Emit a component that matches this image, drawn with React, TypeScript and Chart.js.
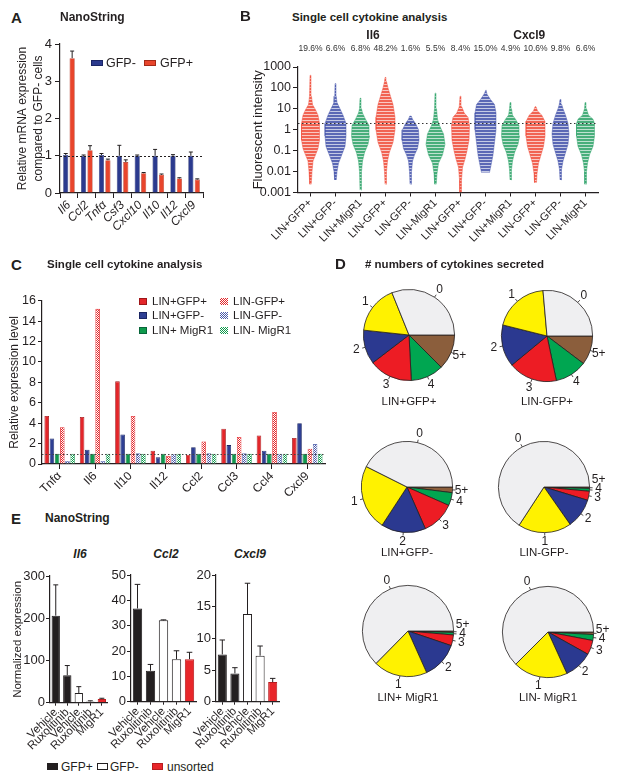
import React, { useEffect, useRef } from "react";
import { Chart, registerables } from "chart.js";

Chart.register(...registerables);

const FONT = "'Liberation Sans', Arial, Helvetica, sans-serif";
Chart.defaults.font.family = FONT;
Chart.defaults.color = "#231f20";

// ================= Panel A (NanoString, GFP- vs GFP+) =================
const aGenes = ["Il6", "Ccl2", "Tnfα", "Csf3", "Cxcl10", "Il10", "Il12", "Cxcl9"];
const aGfpNeg = [1.02, 1.0, 1.02, 1.0, 1.0, 1.0, 1.0, 1.0];
const aGfpNegErr = [0.04, 0.02, 0.04, 0.28, 0.02, 0.17, 0.03, 0.1];
const aGfpPos = [3.62, 1.15, 0.88, 0.83, 0.53, 0.49, 0.39, 0.36];
const aGfpPosErr = [0.19, 0.12, 0.03, 0.06, 0.02, 0.02, 0.02, 0.02];

// ================= Panel B (single cell swarm) =================
const bGroups = ["LIN+GFP+", "LIN+GFP-", "LIN+MigR1", "LIN-GFP+", "LIN-GFP-", "LIN-MigR1",
  "LIN+GFP+", "LIN+GFP-", "LIN+MigR1", "LIN-GFP+", "LIN-GFP-", "LIN-MigR1"];
const bPercents = ["19.6%", "6.6%", "6.8%", "48.2%", "1.6%", "5.5%", "8.4%", "15.0%", "4.9%", "10.6%", "9.8%", "6.6%"];
const bCytokines = ["Il6", "Cxcl9"];
const bYTicks = [0.001, 0.01, 0.1, 1, 10, 100, 1000];
const bYTickLabels = ["0.001", "0.01", "0.1", "1", "10", "100", "1000"];
// swarm outline per column: [intensity, half width in column units]
const bIl6LinPosGfpPos = [[0.0025, 0.03], [0.01, 0.06], [0.032, 0.1], [0.063, 0.2], [0.126, 0.3], [0.32, 0.36], [2, 0.36], [5, 0.3], [9, 0.2], [16, 0.08], [40, 0.04], [400, 0.02]];
const bIl6LinPosGfpNeg = [[0.004, 0.03], [0.01, 0.06], [0.025, 0.12], [0.063, 0.25], [0.16, 0.38], [0.5, 0.42], [2, 0.42], [5, 0.3], [10, 0.18], [20, 0.06], [40, 0.03], [160, 0.02]];
const bIl6LinPosMigR1 = [[0.0013, 0.02], [0.01, 0.04], [0.032, 0.08], [0.08, 0.16], [0.2, 0.3], [0.5, 0.36], [1.6, 0.34], [3.2, 0.2], [6.3, 0.08], [10, 0.04], [32, 0.02]];
const bIl6LinNegGfpPos = [[0.0025, 0.02], [0.01, 0.04], [0.032, 0.08], [0.08, 0.15], [0.25, 0.3], [1, 0.38], [4, 0.38], [16, 0.3], [40, 0.2], [100, 0.1], [200, 0.04], [316, 0.02]];
const bIl6LinNegGfpNeg = [[0.0025, 0.02], [0.01, 0.04], [0.032, 0.08], [0.063, 0.16], [0.126, 0.28], [0.32, 0.34], [1, 0.32], [2, 0.2], [3.2, 0.08], [4.5, 0.03]];
const bIl6LinNegMigR1 = [[0.0025, 0.03], [0.008, 0.06], [0.025, 0.12], [0.063, 0.28], [0.2, 0.38], [0.63, 0.32], [1.6, 0.16], [3.2, 0.08], [10, 0.04], [56, 0.02]];
const bCxcl9LinPosGfpPos = [[0.001, 0.03], [0.004, 0.04], [0.016, 0.08], [0.04, 0.18], [0.1, 0.26], [0.32, 0.34], [1.6, 0.36], [4, 0.3], [6.3, 0.15], [12.6, 0.05], [40, 0.02]];
const bCxcl9LinPosGfpNeg = [[0.009, 0.16], [0.02, 0.22], [0.063, 0.3], [0.25, 0.36], [1, 0.42], [6.3, 0.42], [16, 0.36], [28, 0.2], [50, 0.06], [80, 0.02]];
const bCxcl9LinPosMigR1 = [[0.004, 0.02], [0.0126, 0.04], [0.032, 0.08], [0.08, 0.16], [0.2, 0.3], [0.5, 0.36], [1.6, 0.34], [3.2, 0.2], [5, 0.08], [10, 0.04], [20, 0.02]];
const bCxcl9LinNegGfpPos = [[0.003, 0.04], [0.008, 0.06], [0.025, 0.12], [0.063, 0.22], [0.16, 0.32], [0.5, 0.38], [2.5, 0.38], [5, 0.25], [8, 0.08], [12.6, 0.02]];
const bCxcl9LinNegGfpNeg = [[0.004, 0.02], [0.0126, 0.04], [0.032, 0.1], [0.08, 0.2], [0.2, 0.3], [0.63, 0.34], [2, 0.3], [5, 0.2], [10, 0.1], [16, 0.05], [28, 0.02]];
const bCxcl9LinNegMigR1 = [[0.0025, 0.03], [0.01, 0.04], [0.025, 0.08], [0.063, 0.16], [0.16, 0.3], [0.5, 0.36], [2, 0.36], [3.2, 0.3], [5, 0.12], [10, 0.04], [20, 0.02]];
const bProfiles = [bIl6LinPosGfpPos, bIl6LinPosGfpNeg, bIl6LinPosMigR1, bIl6LinNegGfpPos, bIl6LinNegGfpNeg, bIl6LinNegMigR1,
  bCxcl9LinPosGfpPos, bCxcl9LinPosGfpNeg, bCxcl9LinPosMigR1, bCxcl9LinNegGfpPos, bCxcl9LinNegGfpNeg, bCxcl9LinNegMigR1];
const bThreshold = 2;

// ================= Panel C (single cell relative expression) =================
const cGenes = ["Tnfα", "Il6", "Il10", "Il12", "Ccl2", "Ccl3", "Ccl4", "Cxcl9"];
const cSeries = ["LIN+GFP+", "LIN+GFP-", "LIN+ MigR1", "LIN-GFP+", "LIN-GFP-", "LIN- MigR1"];
const cLinPosGfpPos = [4.7, 4.6, 8.1, 1.3, 0.9, 3.45, 2.8, 2.55];
const cLinPosGfpNeg = [2.5, 1.4, 2.9, 0.65, 1.65, 1.85, 1.3, 4.0];
const cLinPosMigR1 = [1, 1, 1, 1, 1, 1, 1, 1];
const cLinNegGfpPos = [3.6, 15.2, 4.7, 0.8, 2.2, 2.65, 5.1, 1.5];
const cLinNegGfpNeg = [0.3, 0.3, 1.05, 0.95, 1.05, 1.05, 1.0, 1.95];
const cLinNegMigR1 = [1, 1, 1, 1, 1, 1, 1, 1];

// ================= Panel D (number of cytokines secreted, %) =================
const dCategories = ["0", "1", "2", "3", "4", "5+"];
const dLinPosGfpPos = [31.1, 17.2, 12.1, 15.4, 11.7, 12.5];
const dLinNegGfpPos = [26.4, 19.7, 14.9, 17.3, 11.4, 10.3];
const dLinPosGfpNeg = [42.6, 23.2, 15.8, 11.8, 4.6, 2.0];
const dLinNegGfpNeg = [65.8, 18.9, 10.6, 3.2, 1.0, 0.5];
const dLinPosMigR1 = [62.6, 19.1, 13.1, 3.8, 0.9, 0.5];
const dLinNegMigR1 = [62.5, 19.3, 10.1, 5.1, 2.1, 0.9];
const dPieNames = ["LIN+GFP+", "LIN-GFP+", "LIN+GFP-", "LIN-GFP-", "LIN+ MigR1", "LIN- MigR1"];

// ================= Panel E (NanoString, normalized) =================
const eGroups = ["Vehicle", "Ruxolitinib", "Vehicle", "Ruxolitinib", "MigR1"];
const eTypes = ["GFP+", "GFP+", "GFP-", "GFP-", "unsorted"];
const eIl6 = [206, 65, 23, 3, 9];
const eIl6Err = [73, 23, 15, 1.5, 1.5];
const eCcl2 = [36.8, 12.2, 32.1, 16.8, 16.8];
const eCcl2Err = [9.5, 2.5, 0.2, 3.3, 2.7];
const eCxcl9 = [7.47, 4.47, 13.84, 7.26, 3.1];
const eCxcl9Err = [2.27, 0.9, 4.86, 1.53, 0.58];

// ================= styles =================
const INK = "#231f20";
const A_BLUE = "#2b3a8e", A_BLUE_D = "#1b2566", A_RED = "#e8452c", A_RED_D = "#a42a18";
const C_RED = "#e3262a", C_RED_D = "#9e1619", C_BLUE = "#2e3f93", C_BLUE_D = "#1b2663", C_GREEN = "#0f9a4c", C_GREEN_D = "#08663a";
const B_RED: [number, number, number] = [238, 72, 52];
const B_BLUE: [number, number, number] = [62, 78, 168];
const B_GREEN: [number, number, number] = [40, 160, 100];
const D_COLORS = ["#efeff1", "#fff200", "#2b3990", "#ed1c24", "#00a651", "#8b5e3c"];
const E_COLORS: Record<string, string> = { "GFP+": "#231f20", "GFP-": "#ffffff", unsorted: "#e8262a" };
const E_BORDERS: Record<string, string> = { "GFP+": "#231f20", "GFP-": "#231f20", unsorted: "#b81c1f" };

const fixW = (w: number) => (scale: any) => { scale.width = w; };
const fixH = (h: number) => (scale: any) => { scale.height = h; };

function checker(color: string) {
  const c = document.createElement("canvas");
  c.width = 2; c.height = 2;
  const g = c.getContext("2d")!;
  g.fillStyle = "#ffffff"; g.fillRect(0, 0, 2, 2);
  g.fillStyle = color; g.fillRect(0, 0, 1, 1); g.fillRect(1, 1, 1, 1);
  return g.createPattern(c, "repeat")!;
}
function stripes(rgb: [number, number, number]) {
  const c = document.createElement("canvas");
  c.width = 1; c.height = 3;
  const g = c.getContext("2d")!;
  g.fillStyle = `rgba(${rgb.join(",")},0.85)`; g.fillRect(0, 0, 1, 2);
  g.fillStyle = `rgba(${rgb.join(",")},0.3)`; g.fillRect(0, 2, 1, 1);
  return g.createPattern(c, "repeat")!;
}

// ================= plugins =================
const errorBarPlugin = {
  id: "errorBars",
  afterDatasetsDraw(chart: any) {
    const ctx = chart.ctx;
    const ys = chart.scales.y;
    chart.data.datasets.forEach((ds: any, di: number) => {
      if (!ds.errors) return;
      const meta = chart.getDatasetMeta(di);
      meta.data.forEach((bar: any, i: number) => {
        const v = ds.data[i], e = ds.errors[i];
        if (e == null) return;
        const top = ys.getPixelForValue(v + e);
        const cap = Math.max(2, bar.width * 0.3);
        ctx.save();
        ctx.strokeStyle = ds.errorColor || INK;
        ctx.lineWidth = 1;
        ctx.beginPath();
        ctx.moveTo(bar.x, bar.y);
        ctx.lineTo(bar.x, top);
        ctx.moveTo(bar.x - cap, top);
        ctx.lineTo(bar.x + cap, top);
        ctx.stroke();
        ctx.restore();
      });
    });
  },
};

const refLinePlugin = {
  id: "refLine",
  afterDatasetsDraw(chart: any, _args: any, opts: any) {
    if (opts == null || opts.value == null) return;
    const ctx = chart.ctx;
    const y = Math.round(chart.scales.y.getPixelForValue(opts.value)) + 0.5;
    const { left, right } = chart.chartArea;
    ctx.save();
    ctx.setLineDash(opts.dash || [2, 2]);
    ctx.strokeStyle = opts.color || INK;
    ctx.lineWidth = 1;
    ctx.beginPath();
    ctx.moveTo(left, y);
    ctx.lineTo(right, y);
    ctx.stroke();
    ctx.restore();
  },
};

const columnTextPlugin = {
  id: "colText",
  afterDraw(chart: any, _args: any, opts: any) {
    const ctx = chart.ctx;
    const xs = chart.scales.x;
    const top = chart.chartArea.top;
    ctx.save();
    ctx.fillStyle = "#333";
    ctx.textAlign = "center";
    ctx.textBaseline = "middle";
    ctx.font = `8.5px ${FONT}`;
    opts.labels.forEach((t: string, i: number) => ctx.fillText(t, xs.getPixelForValue(i + 1), top - opts.labelOffset));
    ctx.fillStyle = INK;
    ctx.font = `bold 12px ${FONT}`;
    opts.headings.forEach((t: string, i: number) => ctx.fillText(t, xs.getPixelForValue(opts.headingAt[i]), top - opts.headingOffset));
    ctx.restore();
  },
};

const pieLabelPlugin = {
  id: "pieLabels",
  afterDraw(chart: any) {
    const ctx = chart.ctx;
    const meta = chart.getDatasetMeta(0);
    const labels = chart.data.labels;
    const items = meta.data.map((arc: any, i: number) => {
      const mid = (arc.startAngle + arc.endAngle) / 2;
      const r = arc.outerRadius;
      return { i, mid, x: arc.x, y: arc.y, r, lx: arc.x + Math.cos(mid) * (r + 9), ly: arc.y + Math.sin(mid) * (r + 9) };
    });
    const right = items.filter((it: any) => Math.cos(it.mid) > 0.5).sort((a: any, b: any) => b.ly - a.ly);
    for (let k = 1; k < right.length; k++) {
      if (right[k].ly > right[k - 1].ly - 9) right[k].ly = right[k - 1].ly - 9;
    }
    ctx.save();
    ctx.strokeStyle = INK;
    ctx.fillStyle = INK;
    ctx.lineWidth = 0.8;
    ctx.font = `12px ${FONT}`;
    ctx.textAlign = "center";
    ctx.textBaseline = "middle";
    items.forEach((it: any) => {
      const c = Math.cos(it.mid), s = Math.sin(it.mid);
      ctx.beginPath();
      ctx.moveTo(it.x + c * it.r, it.y + s * it.r);
      ctx.lineTo(it.x + c * (it.r + 3), it.y + s * (it.r + 3));
      ctx.stroke();
      ctx.fillText(labels[it.i], it.lx, it.ly);
    });
    ctx.restore();
  },
};

const axisColor = INK;
const baseOpts = {
  responsive: false,
  animation: false,
  events: [],
};

// ================= configs =================
function configA() {
  return {
    type: "bar",
    data: {
      labels: aGenes,
      datasets: [
        { label: "GFP-", data: aGfpNeg, errors: aGfpNegErr, backgroundColor: A_BLUE, borderColor: A_BLUE_D, borderWidth: 0.6 },
        { label: "GFP+", data: aGfpPos, errors: aGfpPosErr, backgroundColor: A_RED, borderColor: A_RED_D, borderWidth: 0.6 },
      ],
    },
    options: {
      ...baseOpts,
      layout: { padding: { left: 0, top: 14, right: 7, bottom: 0 } },
      datasets: { bar: { categoryPercentage: 0.72, barPercentage: 0.8 } },
      plugins: { legend: { display: false }, tooltip: { enabled: false }, refLine: { value: 1, dash: [2, 2] } },
      scales: {
        x: {
          grid: { drawOnChartArea: false, offset: true, tickLength: 5, color: axisColor },
          border: { color: axisColor, width: 1.2 },
          ticks: { font: { size: 12, style: "italic" }, minRotation: 45, maxRotation: 45, padding: 0, color: INK, autoSkip: false },
          afterFit: fixH(52),
        },
        y: {
          min: 0, max: 4,
          grid: { drawOnChartArea: false, tickLength: 5, color: axisColor },
          border: { color: axisColor, width: 1.2 },
          ticks: { stepSize: 1, font: { size: 13 }, padding: 3, color: INK },
          title: { display: true, text: ["Relative mRNA expression", "compared to GFP- cells"], font: { size: 12, lineHeight: 1.3 }, padding: { top: 15, bottom: 0 }, color: INK },
          afterFit: fixW(60),
        },
      },
    },
    plugins: [errorBarPlugin, refLinePlugin],
  };
}

function configB() {
  const colorOf = (g: string) => (g.includes("GFP+") ? B_RED : g.includes("GFP-") ? B_BLUE : B_GREEN);
  const datasets = bProfiles.map((prof, i) => {
    const c = i + 1;
    const rgb = colorOf(bGroups[i]);
    const rightSide = prof.map(([v, w]) => ({ x: c + w, y: v }));
    const leftSide = prof.slice().reverse().map(([v, w]) => ({ x: c - w, y: v }));
    return {
      label: bGroups[i],
      data: [...rightSide, ...leftSide],
      fill: "shape",
      backgroundColor: stripes(rgb),
      borderColor: `rgba(${rgb.join(",")},0.55)`,
      borderWidth: 0.8,
      pointRadius: 0,
      tension: 0,
    };
  });
  return {
    type: "line",
    data: { datasets },
    options: {
      ...baseOpts,
      layout: { padding: { left: 0, top: 39, right: 12, bottom: 0 } },
      plugins: {
        legend: { display: false }, tooltip: { enabled: false },
        refLine: { value: bThreshold, dash: [1.5, 2.5], color: "#333" },
        colText: { labels: bPercents, labelOffset: 18, headings: bCytokines, headingAt: [3.5, 9.75], headingOffset: 31 },
      },
      scales: {
        x: {
          type: "linear", min: 0.5, max: 12.5,
          afterBuildTicks: (s: any) => { s.ticks = bGroups.map((_, i) => ({ value: i + 1 })); },
          grid: { drawOnChartArea: false, tickLength: 4, color: axisColor },
          border: { color: axisColor, width: 1.2 },
          ticks: { callback: (v: number) => bGroups[v - 1], font: { size: 11 }, minRotation: 45, maxRotation: 45, padding: 0, color: INK, autoSkip: false },
          afterFit: fixH(77.5),
        },
        y: {
          type: "logarithmic", min: 0.001, max: 1000,
          afterBuildTicks: (s: any) => { s.ticks = bYTicks.map((v) => ({ value: v })); },
          grid: { drawOnChartArea: false, tickLength: 5, color: axisColor },
          border: { color: axisColor, width: 1.2 },
          ticks: { callback: (v: number) => bYTickLabels[bYTicks.indexOf(v)], font: { size: 12.5 }, padding: 2, color: INK, autoSkip: false },
          title: { display: true, text: "Fluorescent intensity", font: { size: 13 }, padding: { top: 6, bottom: 0 }, color: INK },
          afterFit: fixW(53),
        },
      },
    },
    plugins: [refLinePlugin, columnTextPlugin],
  };
}

function configC() {
  const mk = (label: string, data: number[], bg: any, border: string) => ({ label, data, backgroundColor: bg, borderColor: border, borderWidth: 0.8 });
  return {
    type: "bar",
    data: {
      labels: cGenes,
      datasets: [
        mk(cSeries[0], cLinPosGfpPos, C_RED, C_RED_D),
        mk(cSeries[1], cLinPosGfpNeg, C_BLUE, C_BLUE_D),
        mk(cSeries[2], cLinPosMigR1, C_GREEN, C_GREEN_D),
        mk(cSeries[3], cLinNegGfpPos, checker(C_RED), C_RED),
        mk(cSeries[4], cLinNegGfpNeg, checker("#4a5aa8"), "#6a78b8"),
        mk(cSeries[5], cLinNegMigR1, checker(C_GREEN), "#3aa86a"),
      ],
    },
    options: {
      ...baseOpts,
      layout: { padding: { left: 0, top: 12.7, right: 5, bottom: 0 } },
      datasets: { bar: { categoryPercentage: 0.88, barPercentage: 0.88 } },
      plugins: { legend: { display: false }, tooltip: { enabled: false }, refLine: { value: 1, dash: [1.5, 2], color: "#444" } },
      scales: {
        x: {
          grid: { drawOnChartArea: false, offset: false, tickLength: 5, color: axisColor },
          border: { color: axisColor, width: 1.2 },
          ticks: { font: { size: 12 }, minRotation: 45, maxRotation: 45, padding: 0, color: INK, autoSkip: false },
          afterFit: fixH(46),
        },
        y: {
          min: 0, max: 16,
          grid: { drawOnChartArea: false, tickLength: 4, color: axisColor },
          border: { color: axisColor, width: 1.2 },
          ticks: { stepSize: 2, font: { size: 12.5 }, padding: 2, color: INK },
          title: { display: true, text: "Relative expression level", font: { size: 12 }, padding: { top: 7, bottom: 0 }, color: INK },
          afterFit: fixW(42),
        },
      },
    },
    plugins: [refLinePlugin],
  };
}

function configPie(values: number[]) {
  return {
    type: "pie",
    data: {
      labels: dCategories.slice().reverse(),
      datasets: [{ data: values.slice().reverse(), backgroundColor: D_COLORS.slice().reverse(), borderColor: INK, borderWidth: 0.8 }],
    },
    options: {
      ...baseOpts,
      rotation: 90,
      layout: { padding: { left: 24, right: 24, top: 19, bottom: 19 } },
      plugins: { legend: { display: false }, tooltip: { enabled: false } },
    },
    plugins: [pieLabelPlugin],
  };
}

function configE(values: number[], errs: number[], max: number, step: number, yTitle: string | null, yW: number, padR: number) {
  return {
    type: "bar",
    data: {
      labels: eGroups,
      datasets: [{
        data: values, errors: errs,
        backgroundColor: eTypes.map((t) => E_COLORS[t]),
        borderColor: eTypes.map((t) => E_BORDERS[t]),
        borderWidth: 1,
      }],
    },
    options: {
      ...baseOpts,
      layout: { padding: { left: 0, top: 10, right: padR, bottom: 0 } },
      datasets: { bar: { categoryPercentage: 1, barPercentage: 0.72 } },
      plugins: { legend: { display: false }, tooltip: { enabled: false } },
      scales: {
        x: {
          grid: { drawOnChartArea: false, offset: false, tickLength: 3, color: axisColor },
          border: { color: axisColor, width: 1.2 },
          ticks: { font: { size: 11.5 }, minRotation: 45, maxRotation: 45, padding: 0, color: INK, autoSkip: false },
          afterFit: fixH(53.3),
        },
        y: {
          min: 0, max,
          grid: { drawOnChartArea: false, tickLength: 4, color: axisColor },
          border: { color: axisColor, width: 1.2 },
          ticks: { stepSize: step, font: { size: 13 }, padding: 1, color: INK },
          title: { display: !!yTitle, text: yTitle || "", font: { size: 11.5 }, padding: { top: 11, bottom: 0 }, color: INK },
          afterFit: fixW(yW),
        },
      },
    },
    plugins: [errorBarPlugin],
  };
}

// ================= components =================
type Box = { x: number; y: number; w: number; h: number };

function ChartBox({ box, config }: { box: Box; config: () => any }) {
  const ref = useRef<HTMLCanvasElement | null>(null);
  useEffect(() => {
    if (!ref.current) return;
    const chart = new Chart(ref.current, config());
    return () => chart.destroy();
  }, []);
  return (
    <canvas
      ref={ref}
      width={box.w}
      height={box.h}
      style={{ position: "absolute", left: box.x, top: box.y, width: box.w, height: box.h }}
    />
  );
}

function Txt(props: { x: number; y: number; s: number; children: any; bold?: boolean; italic?: boolean; center?: boolean; color?: string }) {
  const { x, y, s, bold, italic, center } = props;
  return (
    <div
      style={{
        position: "absolute",
        left: x,
        top: y - 0.5 * s,
        fontSize: s,
        lineHeight: `${s}px`,
        height: s,
        fontFamily: FONT,
        fontWeight: bold ? 700 : 400,
        fontStyle: italic ? "italic" : "normal",
        whiteSpace: "nowrap",
        color: props.color || INK,
        transform: center ? "translateX(-50%)" : undefined,
      }}
    >
      {props.children}
    </div>
  );
}

function Swatch({ x, y, w, h, bg, border }: { x: number; y: number; w: number; h: number; bg: string; border?: string }) {
  return (
    <div
      style={{
        position: "absolute", left: x, top: y, width: w, height: h, boxSizing: "border-box",
        background: bg, border: border ? `1px solid ${border}` : undefined,
      }}
    />
  );
}

const checkerCss = (c: string) => `repeating-conic-gradient(${c} 0 25%, #ffffff 0 50%) 0 0 / 2px 2px`;

const pieCenters = [[409, 335], [547, 336], [407, 487], [544, 487], [408, 631], [548, 632]];
const pieValues = [dLinPosGfpPos, dLinNegGfpPos, dLinPosGfpNeg, dLinNegGfpNeg, dLinPosMigR1, dLinNegMigR1];
const pieTitleY = [402, 402, 553, 553, 698, 698];

export default function App() {
  return (
    <div style={{ position: "absolute", left: 0, top: 0, width: 620, height: 781, background: "#fff", overflow: "hidden" }}>
      {/* Panel A */}
      <ChartBox box={{ x: 0, y: 30, w: 210, h: 215 }} config={configA} />
      <Txt x={11} y={17} s={15} bold>A</Txt>
      <Txt x={60} y={17} s={12} bold>NanoString</Txt>
      <Swatch x={91} y={60} w={12} h={6} bg={A_BLUE} border={A_BLUE_D} />
      <Txt x={106} y={63} s={12.5}>GFP-</Txt>
      <Swatch x={144} y={60} w={12} h={6} bg={A_RED} border={A_RED_D} />
      <Txt x={160} y={63} s={12.5}>GFP+</Txt>

      {/* Panel B */}
      <ChartBox box={{ x: 245, y: 28, w: 365, h: 242 }} config={configB} />
      <Txt x={240} y={15} s={15} bold>B</Txt>
      <Txt x={292} y={18} s={11.5} bold>Single cell cytokine analysis</Txt>

      {/* Panel C */}
      <ChartBox box={{ x: 0, y: 288, w: 330, h: 222 }} config={configC} />
      <Txt x={11} y={264} s={15} bold>C</Txt>
      <Txt x={47} y={265} s={11.5} bold>Single cell cytokine analysis</Txt>
      <Swatch x={139} y={298} w={8} h={7} bg={C_RED} border={C_RED_D} />
      <Txt x={152} y={302} s={11.5}>{cSeries[0]}</Txt>
      <Swatch x={139} y={312} w={8} h={7} bg={C_BLUE} border={C_BLUE_D} />
      <Txt x={152} y={316} s={11.5}>{cSeries[1]}</Txt>
      <Swatch x={139} y={327} w={8} h={7} bg={C_GREEN} border={C_GREEN_D} />
      <Txt x={152} y={331} s={11.5}>{cSeries[2]}</Txt>
      <Swatch x={220} y={298} w={8} h={7} bg={checkerCss(C_RED)} />
      <Txt x={233} y={302} s={11.5}>{cSeries[3]}</Txt>
      <Swatch x={220} y={312} w={8} h={7} bg={checkerCss("#4a5aa8")} />
      <Txt x={233} y={316} s={11.5}>{cSeries[4]}</Txt>
      <Swatch x={220} y={327} w={8} h={7} bg={checkerCss(C_GREEN)} />
      <Txt x={233} y={331} s={11.5}>{cSeries[5]}</Txt>

      {/* Panel D */}
      <Txt x={335} y={263} s={15} bold>D</Txt>
      <Txt x={365} y={265} s={11.5} bold># numbers of cytokines secreted</Txt>
      {pieCenters.map(([cx, cy], i) => (
        <React.Fragment key={i}>
          <ChartBox box={{ x: cx - 70, y: cy - 65, w: 140, h: 130 }} config={() => configPie(pieValues[i])} />
          <Txt x={cx} y={pieTitleY[i]} s={11.5} center>{dPieNames[i]}</Txt>
        </React.Fragment>
      ))}

      {/* Panel E */}
      <Txt x={11} y={518} s={15} bold>E</Txt>
      <Txt x={45} y={518} s={12} bold>NanoString</Txt>
      <Txt x={80} y={554} s={12} bold italic center>Il6</Txt>
      <Txt x={166} y={554} s={12} bold italic center>Ccl2</Txt>
      <Txt x={250} y={554} s={12} bold italic center>Cxcl9</Txt>
      <ChartBox box={{ x: 0, y: 566, w: 112, h: 190 }} config={() => configE(eIl6, eIl6Err, 300, 100, "Normalized expression", 50, 4)} />
      <ChartBox box={{ x: 100, y: 565, w: 100, h: 190 }} config={() => configE(eCcl2, eCcl2Err, 50, 10, null, 31, 4)} />
      <ChartBox box={{ x: 190, y: 565, w: 94, h: 190 }} config={() => configE(eCxcl9, eCxcl9Err, 20, 5, null, 26, 5)} />
      <Swatch x={47} y={763} w={11} h={7} bg={E_COLORS["GFP+"]} />
      <Txt x={61} y={767} s={12}>GFP+</Txt>
      <Swatch x={97} y={763} w={11} h={7} bg="#fff" border={INK} />
      <Txt x={110} y={767} s={12}>GFP-</Txt>
      <Swatch x={152} y={763} w={11} h={7} bg={E_COLORS.unsorted} border="#b81c1f" />
      <Txt x={167} y={767} s={12}>unsorted</Txt>
    </div>
  );
}
